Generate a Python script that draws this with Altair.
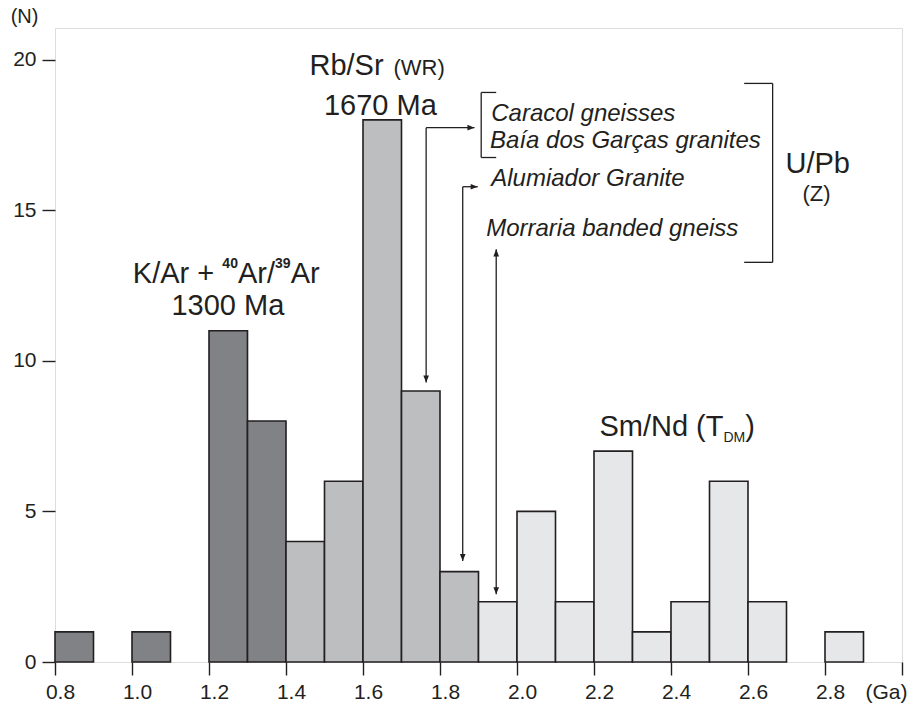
import altair as alt
import pandas as pd

INK = "#231f20"
FONT = "Liberation Sans"

# ---- histogram data (Ga bins of 0.1) ----
bin_start = [0.8, 1.0, 1.2, 1.3, 1.4, 1.5, 1.6, 1.7, 1.8, 1.9, 2.0, 2.1, 2.2, 2.3, 2.4, 2.5, 2.6, 2.8]
counts    = [1,   1,   11,  8,   4,   6,   18,  9,   3,   2,   5,   2,   7,   1,   2,   6,   2,   1]
method    = ["K/Ar"] * 4 + ["Rb/Sr"] * 5 + ["Sm/Nd"] * 9
bin_width = 0.1

method_names = ["K/Ar", "Rb/Sr", "Sm/Nd"]
method_colors = ["#808285", "#bcbec0", "#e6e7e8"]

x_ticks = [0.8, 1.0, 1.2, 1.4, 1.6, 1.8, 2.0, 2.2, 2.4, 2.6, 2.8, 3.0]
y_ticks = [0, 5, 10, 15, 20]

bars = pd.DataFrame({
    "start": bin_start,
    "end": [round(s + bin_width, 2) for s in bin_start],
    "n": counts,
    "method": method,
})

xs = alt.Scale(domain=[0.8, 3.0], nice=False, zero=False)
ys = alt.Scale(domain=[0, 21.05], nice=False, zero=True)

bar_layer = alt.Chart(bars).mark_rect(stroke=INK, strokeWidth=1.6).encode(
    x=alt.X("start:Q", scale=xs, axis=alt.Axis(
        values=x_ticks, title=None, grid=False, domain=False,
        tickSize=13, tickColor=INK, tickWidth=1.4,
        labelFont=FONT, labelFontSize=21, labelColor=INK, labelPadding=6,
        labelOffset=5, labelFlush=False,
        labelExpr="datum.value > 2.9 ? '(Ga)' : format(datum.value, '.1f')",
        labelAlign={"condition": {"test": "datum.value > 2.9", "value": "right"}, "value": "center"},
    )),
    x2="end:Q",
    y=alt.Y("n:Q", scale=ys, axis=alt.Axis(
        values=y_ticks, title="(N)", grid=False, domain=False,
        tickSize=13, tickColor=INK, tickWidth=1.4,
        labelFont=FONT, labelFontSize=21, labelColor=INK, labelPadding=6,
        titleAngle=0, titleX=-31, titleY=-6, titleAlign="center", titleBaseline="alphabetic",
        titleFont=FONT, titleFontSize=20, titleFontWeight="normal", titleColor=INK,
    )),
    y2=alt.datum(0),
    color=alt.Color("method:N", scale=alt.Scale(domain=method_names, range=method_colors), legend=None),
)

# ---- annotation line segments (data coordinates) ----
seg_x  = [1.764, 1.764, 1.859, 1.859, 1.946, 1.907, 1.907, 1.907, 2.664, 2.590, 2.590]
seg_x2 = [1.764, 1.8896, 1.859, 1.898, 1.946, 1.907, 1.946, 1.946, 2.664, 2.664, 2.664]
seg_y  = [17.74, 17.74, 15.78, 15.78, 13.70, 16.75, 18.91, 16.75, 13.27, 19.21, 13.27]
seg_y2 = [9.28, 17.74, 3.35, 15.78, 2.25, 18.91, 18.91, 16.75, 19.21, 19.21, 13.27]
segs = pd.DataFrame({"x": seg_x, "x2": seg_x2, "y": seg_y, "y2": seg_y2})
seg_layer = alt.Chart(segs).mark_rule(color=INK, strokeWidth=1.3).encode(
    x=alt.X("x:Q", scale=xs), x2="x2:Q", y=alt.Y("y:Q", scale=ys), y2="y2:Q")

# arrow tips
down_x = [1.764, 1.859, 1.946]
down_y = [9.28, 3.35, 2.25]
right_x = [1.8896, 1.898]
right_y = [17.74, 15.78]
up_x = [1.946]
up_y = [13.70]

def heads(xv, yv, path):
    df = pd.DataFrame({"x": xv, "y": yv})
    return alt.Chart(df).mark_point(shape=path, filled=True, size=200, color=INK, opacity=1,
                                    strokeWidth=0).encode(
        x=alt.X("x:Q", scale=xs), y=alt.Y("y:Q", scale=ys))

head_layers = [
    heads(down_x, down_y, "M-0.4,-1L0.4,-1L0,0Z"),
    heads(right_x, right_y, "M-1,-0.4L-1,0.4L0,0Z"),
    heads(up_x, up_y, "M-0.4,1L0.4,1L0,0Z"),
]

# ---- text annotations ----
def text(label, x, y, size, align="left", dx=0, dy=0, style="normal", weight="normal"):
    df = pd.DataFrame({"x": [x], "y": [y], "t": [label]})
    return alt.Chart(df).mark_text(
        font=FONT, fontSize=size, align=align, baseline="alphabetic", dx=dx, dy=dy,
        fontStyle=style, fontWeight=weight, color=INK,
    ).encode(x=alt.X("x:Q", scale=xs), y=alt.Y("y:Q", scale=ys), text="t:N")

big = 29
it = 24
texts = [
    # K/Ar + 40Ar/39Ar, 1300 Ma
    text("K/Ar + ", 1.249, 12.6, big, dx=-95),
    text("40", 1.249, 12.6, 14, dx=-5.5, dy=-15, weight="bold"),
    text("Ar/", 1.249, 12.6, big, dx=10.1),
    text("39", 1.249, 12.6, 14, dx=47.2, dy=-15, weight="bold"),
    text("Ar", 1.249, 12.6, big, dx=62.8),
    text("1300 Ma", 1.249, 11.53, big, align="center"),
    # Rb/Sr (WR), 1670 Ma
    text("Rb/Sr", 1.461, 19.5, big),
    text("(WR)", 1.461, 19.5, 22, dx=84),
    text("1670 Ma", 1.645, 18.17, big, align="center"),
    # U/Pb group
    text("Caracol gneisses", 1.933, 17.96, it, style="italic"),
    text("Baía dos Garças granites", 1.930, 17.08, it, style="italic"),
    text("Alumiador Granite", 1.933, 15.80, it, style="italic"),
    text("Morraria banded gneiss", 1.920, 14.14, it, style="italic"),
    text("U/Pb", 2.781, 16.25, big, align="center"),
    text("(Z)", 2.778, 15.30, 22, align="center"),
    # Sm/Nd (TDM)
    text("Sm/Nd (T", 2.214, 7.50, big),
    text("DM", 2.214, 7.50, 14, dx=124, dy=6),
    text(")", 2.214, 7.50, big, dx=145.8),
]

chart = alt.layer(bar_layer, seg_layer, *head_layers, *texts).properties(
    width=847, height=634,
    autosize=alt.AutoSizeParams(type="none"),
    padding={"left": 55, "top": 28, "right": 14, "bottom": 44},
).configure_view(stroke=INK, strokeWidth=1.5).configure(background="white")

chart.save("out.html", embed_options={"renderer": "svg", "actions": False})
